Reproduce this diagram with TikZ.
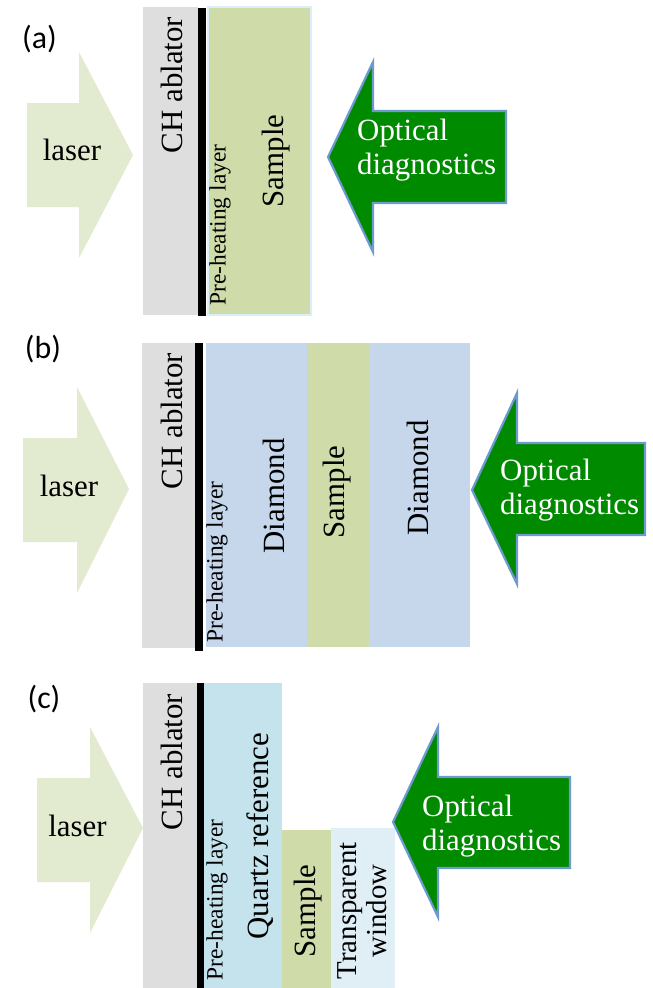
\documentclass[tikz,border=0pt]{standalone}
\usepackage{fontspec}
\setmainfont{Liberation Serif}
\newfontfamily\panelfont{Carlito}
\definecolor{ablator}{HTML}{DEDEDE}
\definecolor{laserfill}{HTML}{E2EACF}
\definecolor{samplefill}{HTML}{CFDCAA}
\definecolor{diamondfill}{HTML}{C6D7EB}
\definecolor{quartzfill}{HTML}{C5E3EC}
\definecolor{windowfill}{HTML}{E0EFF5}
\definecolor{samplerim}{HTML}{DCEEF6}
\definecolor{diaggreen}{HTML}{008A00}
\definecolor{diagrim}{HTML}{6E9AD0}
\tikzset{
  panel/.style={font=\panelfont\fontsize{32}{36}\selectfont, inner sep=0pt},
  big/.style={font=\fontsize{31}{34}\selectfont, inner sep=0pt},
  vlabel/.style={big, rotate=90},
  vsmall/.style={font=\fontsize{23.5}{26}\selectfont, inner sep=0pt, rotate=90},
  diagtext/.style={big, text=white, align=left, anchor=west},
  laserarrow/.style={fill=laserfill},
  diagarrow/.style={fill=diaggreen, draw=diagrim, line width=2.2pt, line join=miter},
  bar/.style={fill=black}
}
\begin{document}
\begin{tikzpicture}[x=1bp, y=-1bp]
\useasboundingbox (0,0) rectangle (653,988);

% ---------------- panel (a) ----------------
\node[panel] (la) at (39.5,39) {(a)};
\fill[laserarrow] (27,103) -- (79,103) -- (79,52) -- (133,155) -- (79,258) -- (79,207) -- (27,207) -- cycle;
\node[big] (lasera) at (72,150) {laser};
\fill[ablator] (143,7) rectangle (198,315);
\fill[bar] (198,8) rectangle (206,316);
\fill[samplefill, draw=samplerim, line width=2.5pt] (208,7) rectangle (311,315);
\node[vlabel] (cha) at (172,85) {CH ablator};
\node[vsmall] (prea) at (220,225) {Pre-heating layer};
\node[vlabel] (sama) at (276,161) {Sample};
\draw[diagarrow] (328,157) -- (373,62) -- (373,111) -- (506,111) -- (506,203) -- (373,203) -- (373,252) -- cycle;
\node[diagtext] (opta) at (357,150) {Optical\\diagnostics};

% ---------------- panel (b) ----------------
\node[panel] (lb) at (43,349) {(b)};
\fill[laserarrow] (23,438) -- (77,438) -- (77,387) -- (129,489) -- (77,593) -- (77,542) -- (23,542) -- cycle;
\node[big] (laserb) at (69,486) {laser};
\fill[ablator] (142,343) rectangle (195,648);
\fill[bar] (195,343) rectangle (203,651);
\fill[diamondfill] (206,343) rectangle (307,647);
\fill[samplefill] (307,343) rectangle (369,647);
\fill[diamondfill] (369,343) rectangle (470,647);
\node[vlabel] (chb) at (172,421) {CH ablator};
\node[vsmall] (preb) at (217,562) {Pre-heating layer};
\node[vlabel] (diab) at (273.5,496) {Diamond};
\node[vlabel] (samb) at (337,492) {Sample};
\node[vlabel] (diac) at (418,478) {Diamond};
\draw[diagarrow] (472,490) -- (517,393) -- (517,443) -- (645,443) -- (645,535) -- (517,535) -- (517,584) -- cycle;
\node[diagtext] (optb) at (500,490) {Optical\\diagnostics};

% ---------------- panel (c) ----------------
\node[panel] (lc) at (44,699) {(c)};
\fill[laserarrow] (37,778) -- (90,778) -- (90,727) -- (143,828) -- (90,933) -- (90,882) -- (37,882) -- cycle;
\node[big] (laserc) at (77.5,826) {laser};
\fill[ablator] (143,683) rectangle (197,988);
\fill[bar] (197,683) rectangle (204,988);
\fill[quartzfill] (204,683) rectangle (282,988);
\fill[samplefill] (282,830) rectangle (331,988);
\fill[windowfill] (331,828) rectangle (395,988);
\node[vlabel] (chc) at (172,762) {CH ablator};
\node[vsmall] (prec) at (217,900) {Pre-heating layer};
\node[vlabel] (quartz) at (260,836) {Quartz reference};
\node[vlabel] (samc) at (308,911) {Sample};
\node[vlabel, align=center, font=\fontsize{29}{30}\selectfont] (window) at (362,911) {Transparent\\window};
\draw[diagarrow] (393,822) -- (438,727) -- (438,777) -- (570,777) -- (570,868) -- (438,868) -- (438,917) -- cycle;
\node[diagtext] (optc) at (422,826) {Optical\\diagnostics};
\end{tikzpicture}
\end{document}
